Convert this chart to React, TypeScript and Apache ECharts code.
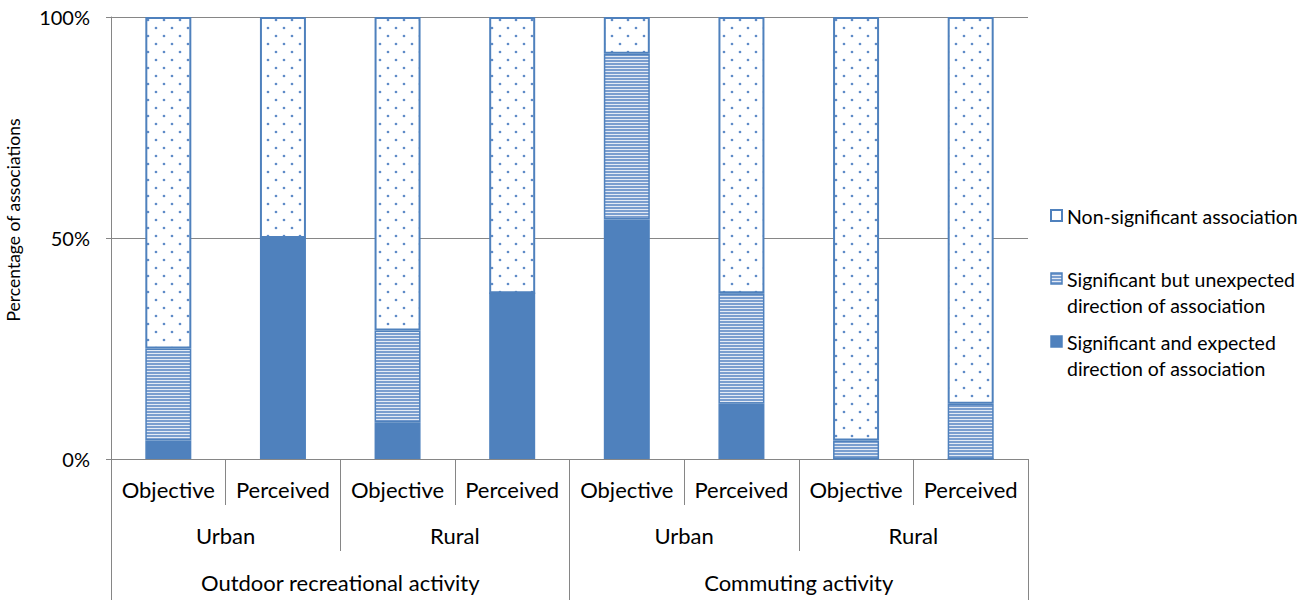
import React, { useEffect, useRef } from "react";
import * as echarts from "echarts";

const level1 = ["Objective", "Perceived", "Objective", "Perceived", "Objective", "Perceived", "Objective", "Perceived"];
const level2 = ["Urban", "Rural", "Urban", "Rural"];
const level3 = ["Outdoor recreational activity", "Commuting activity"];

const expected = [4.2, 50, 8.3, 37.5, 54.2, 12.5, 0, 0];
const unexpected = [20.8, 0, 20.8, 0, 37.5, 25, 4.2, 12.5];
const nonSignificant = [75, 50, 70.9, 62.5, 8.3, 62.5, 95.8, 87.5];

const yTicks = [0, 50, 100];

const seriesNames = [
  "Significant and expected\ndirection of association",
  "Significant but unexpected\ndirection of association",
  "Non-significant association",
];

const BLUE = "#4F81BD";
const GRAY = "#868686";
const FONT = "Lato";

function makeDots() {
  const c = document.createElement("canvas");
  c.width = 16;
  c.height = 16;
  const ctx = c.getContext("2d")!;
  ctx.fillStyle = "#ffffff";
  ctx.fillRect(0, 0, 16, 16);
  ctx.fillStyle = "#5f8bc7";
  ctx.beginPath();
  ctx.arc(4, 4, 1.35, 0, Math.PI * 2);
  ctx.fill();
  ctx.beginPath();
  ctx.arc(12, 12, 1.35, 0, Math.PI * 2);
  ctx.fill();
  return c;
}

function makeStripes() {
  const c = document.createElement("canvas");
  c.width = 4;
  c.height = 3;
  const ctx = c.getContext("2d")!;
  ctx.fillStyle = "#7a9ecf";
  ctx.fillRect(0, 0, 4, 2);
  ctx.fillStyle = "#e4ebf5";
  ctx.fillRect(0, 2, 4, 1);
  return c;
}

export default function App() {
  const ref = useRef<HTMLDivElement>(null);
  useEffect(() => {
    if (!ref.current) return;
    const chart = echarts.init(ref.current, undefined, { renderer: "svg" });
    const dots = { image: makeDots(), repeat: "repeat" } as any;
    const stripes = { image: makeStripes(), repeat: "repeat" } as any;
    const fills = [BLUE, stripes, "#ffffff"];
    const barFills = [BLUE, stripes, dots];
    const dataSets = [expected, unexpected, nonSignificant];

    const legendY = [216, 279, 342];
    const legendOrder = [2, 1, 0];
    const legendGraphics: any[] = [];
    legendOrder.forEach((si, i) => {
      legendGraphics.push({
        type: "rect",
        shape: { x: 1051, y: legendY[i] - 6, width: 11, height: 11 },
        style: { fill: fills[si], stroke: BLUE, lineWidth: si === 2 ? 2 : 1.5 },
      });
      legendGraphics.push({
        type: "text",
        x: 1067,
        y: legendY[i] - 13,
        style: {
          text: seriesNames[si],
          font: `19.5px ${FONT}`,
          fill: "#000",
          lineHeight: 26,
          textAlign: "left",
          textVerticalAlign: "top",
        },
      });
    });

    const labelStyle = { color: "#000", fontSize: 22, fontFamily: FONT };

    chart.setOption({
      animation: false,
      grid: { left: 111, right: 270, top: 17, bottom: 141 },
      xAxis: [
        {
          type: "category",
          data: level1,
          position: "bottom",
          axisLine: { show: true, lineStyle: { color: GRAY, width: 1 } },
          axisTick: { show: true, interval: 0, length: 46, lineStyle: { color: GRAY } },
          axisLabel: { ...labelStyle, interval: 0, margin: 19 },
        },
        {
          type: "category",
          data: level2,
          position: "bottom",
          offset: 46,
          axisLine: { show: false },
          axisTick: { show: true, interval: 0, length: 46, lineStyle: { color: GRAY } },
          axisLabel: { ...labelStyle, interval: 0, margin: 19 },
        },
        {
          type: "category",
          data: level3,
          position: "bottom",
          offset: 92,
          axisLine: { show: false },
          axisTick: { show: true, interval: 0, length: 50, lineStyle: { color: GRAY } },
          axisLabel: { ...labelStyle, interval: 0, margin: 20 },
        },
      ],
      yAxis: {
        type: "value",
        min: 0,
        max: 100,
        interval: 50,
        axisLine: { show: true, lineStyle: { color: GRAY } },
        axisTick: { show: true, length: 5, lineStyle: { color: GRAY } },
        splitLine: { show: true, lineStyle: { color: GRAY } },
        axisLabel: {
          color: "#000",
          fontSize: 20,
          fontFamily: FONT,
          margin: 21,
          formatter: (v: number) => (yTicks.includes(v) ? `${v}%` : ""),
        },
      },
      graphic: [
        {
          type: "text",
          x: 13,
          y: 220,
          rotation: Math.PI / 2,
          style: {
            text: "Percentage of associations",
            font: `17.5px ${FONT}`,
            fill: "#000",
            textAlign: "center",
            textVerticalAlign: "middle",
          },
        },
        ...legendGraphics,
      ],
      series: dataSets.map((d, i) => ({
        type: "bar",
        name: seriesNames[i],
        stack: "total",
        xAxisIndex: 0,
        barWidth: 46,
        data: d,
        itemStyle: { color: barFills[i], borderColor: BLUE, borderWidth: i === 2 ? 2 : 1.5 },
      })),
    });
    return () => chart.dispose();
  }, []);
  return <div ref={ref} style={{ width: 1298, height: 600, position: "absolute", left: 0, top: 0 }} />;
}
